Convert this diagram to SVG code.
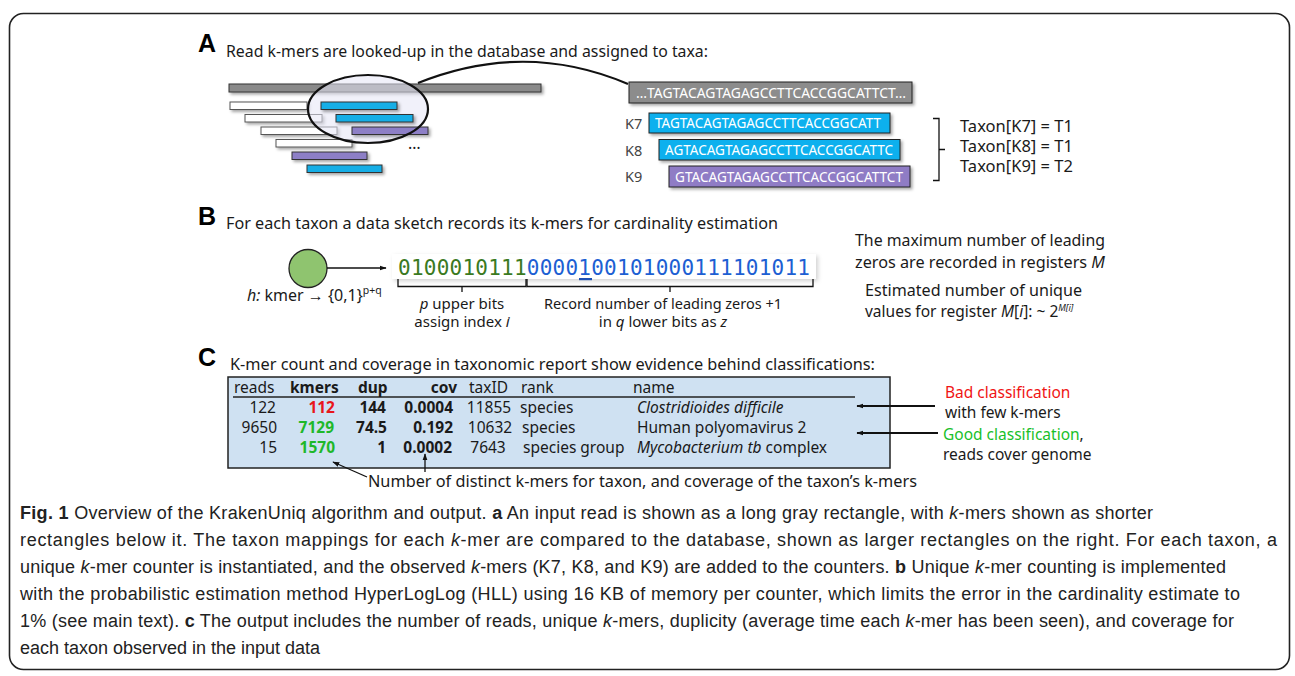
<svg xmlns="http://www.w3.org/2000/svg" width="1295" height="676" viewBox="0 0 1295 676">
  <defs>
    <style>
      .ui { font-family: "Noto Sans", "Open Sans", sans-serif; fill: #1a1a1a; }
      .big { font-family: "Liberation Sans", Arial, sans-serif; font-weight: bold; font-size: 25px; fill: #000; }
      .seq { font-family: "Noto Sans", "Open Sans", sans-serif; font-size: 13.5px; fill: #fff; }
      .klab { font-family: "Noto Sans", "Open Sans", sans-serif; font-size: 14.5px; fill: #444; }
      .bits { font-family: "DejaVu Sans Mono", "Liberation Mono", monospace; font-size: 21px; }
      .cap { font-family: "Liberation Sans", Arial, sans-serif; font-size: 18px; fill: #222; }
      .b { font-weight: bold; }
      .i { font-style: italic; }
      .line { stroke: #111; stroke-width: 1.3; fill: none; }
      .kbox { stroke: #222; stroke-width: 1; }
      .readw { fill: #fff; stroke: #555; stroke-width: 1; }
    </style>
    <filter id="shadow" x="-10%" y="-40%" width="130%" height="200%">
      <feDropShadow dx="2" dy="2" stdDeviation="1.5" flood-color="#000" flood-opacity="0.35"/>
    </filter>
    <filter id="soft" x="-5%" y="-30%" width="110%" height="170%">
      <feDropShadow dx="2" dy="2" stdDeviation="2" flood-color="#000" flood-opacity="0.18"/>
    </filter>
    <marker id="arr" viewBox="0 0 10 10" refX="9" refY="5" markerWidth="7" markerHeight="7" orient="auto-start-reverse" markerUnits="userSpaceOnUse">
      <path d="M0,1.5 L10,5 L0,8.5 z" fill="#111"/>
    </marker>
  </defs>

  <!-- figure frame -->
  <rect x="9.5" y="13.5" width="1280" height="656" rx="14" fill="#fff" stroke="#222" stroke-width="1.6"/>

  <!-- ===== Panel A ===== -->
  <g id="panelA-title">
    <text class="big" x="198" y="52">A</text>
    <text class="ui" x="226" y="57" font-size="17" textLength="482" lengthAdjust="spacingAndGlyphs">Read k-mers are looked-up in the database and assigned to taxa:</text>
  </g>

  <g id="read-kmers" filter="url(#shadow)">
    <rect x="229" y="84" width="312" height="8" fill="#8a8a8a" stroke="#333" stroke-width="1"/>
    <rect class="readw" x="230" y="102" width="77" height="7.5"/>
    <rect class="readw" x="245" y="114.5" width="77" height="7.5"/>
    <rect class="readw" x="261" y="127" width="76" height="7.5"/>
    <rect class="readw" x="276" y="139.5" width="76" height="7.5"/>
    <rect x="292" y="152" width="75" height="7.5" fill="#8d7fc6" stroke="#333" stroke-width="1"/>
    <rect x="307" y="165" width="75" height="7.5" fill="#13aee6" stroke="#333" stroke-width="1"/>
  </g>

  <g id="zoom-ellipse">
    <ellipse cx="368" cy="109" rx="60" ry="34" fill="#e6e6f5" fill-opacity="0.55" stroke="none"/>
    <g filter="url(#shadow)">
      <rect x="321" y="102" width="76" height="7.5" fill="#13aee6" stroke="#333" stroke-width="1"/>
      <rect x="336" y="114.5" width="77" height="7.5" fill="#13aee6" stroke="#333" stroke-width="1"/>
      <rect x="352" y="127" width="76" height="7.5" fill="#8d7fc6" stroke="#333" stroke-width="1"/>
    </g>
    <ellipse cx="368" cy="109" rx="60" ry="34" fill="none" stroke="#111" stroke-width="2.2"/>
    <text class="ui" x="408" y="149" font-size="16">…</text>
  </g>

  <g id="database-sequences">
    <g filter="url(#shadow)">
      <rect class="kbox" x="629" y="82" width="283" height="21" fill="#8c8c8c"/>
      <rect class="kbox" x="649" y="113" width="241" height="20" fill="#0fb0ee"/>
      <rect class="kbox" x="659" y="139.5" width="241" height="20.5" fill="#0fb0ee"/>
      <rect class="kbox" x="669" y="166" width="241" height="21" fill="#8f7cc5"/>
    </g>
    <text class="seq" x="636" y="97.5" textLength="270" lengthAdjust="spacingAndGlyphs">…TAGTACAGTAGAGCCTTCACCGGCATTCT…</text>
    <text class="seq" x="655" y="128" textLength="226" lengthAdjust="spacingAndGlyphs">TAGTACAGTAGAGCCTTCACCGGCATT</text>
    <text class="seq" x="665" y="154.5" textLength="228" lengthAdjust="spacingAndGlyphs">AGTACAGTAGAGCCTTCACCGGCATTC</text>
    <text class="seq" x="675" y="181.5" textLength="228" lengthAdjust="spacingAndGlyphs">GTACAGTAGAGCCTTCACCGGCATTCT</text>
    <text class="klab" x="625" y="128.5">K7</text>
    <text class="klab" x="625" y="155.5">K8</text>
    <text class="klab" x="625" y="182">K9</text>
  </g>

  <g id="taxon-assignments">
    <path class="line" d="M933,118.5 H939 V180.5 H933 M939,149.5 H945"/>
    <text class="ui" x="960" y="132" font-size="16" textLength="113" lengthAdjust="spacingAndGlyphs">Taxon[K7] = T1</text>
    <text class="ui" x="960" y="152" font-size="16" textLength="113" lengthAdjust="spacingAndGlyphs">Taxon[K8] = T1</text>
    <text class="ui" x="960" y="172" font-size="16" textLength="113" lengthAdjust="spacingAndGlyphs">Taxon[K9] = T2</text>
  </g>

  <!-- ===== Panel B ===== -->
  <g id="panelB-title">
    <text class="big" x="198" y="225">B</text>
    <text class="ui" x="226" y="229" font-size="17" textLength="552" lengthAdjust="spacingAndGlyphs">For each taxon a data sketch records its k-mers for cardinality estimation</text>
  </g>

  <g id="hash-node">
    <circle cx="308" cy="268.5" r="19" fill="#8fc46f" stroke="#222" stroke-width="1.3"/>
    <text class="ui" x="247" y="301" font-size="16"><tspan class="i">h:</tspan> kmer → {0,1}<tspan font-size="10.5" dy="-7">p+q</tspan></text>
  </g>

  <g id="bit-string">
    <rect x="392" y="254" width="424" height="25" fill="#fff" filter="url(#soft)"/>
    <text class="bits" x="398" y="275" textLength="412"><tspan fill="#3b7a1f">0100010111</tspan><tspan fill="#1d5fd3">0000100101000111101011</tspan></text>
    <rect x="579" y="278" width="13" height="2.2" fill="#1d4fb3"/>
    <path class="line" d="M398,279 V286.5 H526 V279 M462,286.5 V292"/>
    <path class="line" d="M527,279 V286.5 H813 V279 M670,286.5 V292"/>
    <text class="ui" x="462" y="309" font-size="15" text-anchor="middle"><tspan class="i">p</tspan> upper bits</text>
    <text class="ui" x="462" y="327" font-size="15" text-anchor="middle">assign index <tspan class="i">i</tspan></text>
    <text class="ui" x="663" y="309" font-size="15" text-anchor="middle" textLength="238" lengthAdjust="spacingAndGlyphs">Record number of leading zeros +1</text>
    <text class="ui" x="663" y="327" font-size="15" text-anchor="middle">in <tspan class="i">q</tspan> lower bits as <tspan class="i">z</tspan></text>
  </g>

  <g id="register-notes">
    <text class="ui" x="855" y="246" font-size="15.5" textLength="250" lengthAdjust="spacingAndGlyphs">The maximum number of leading</text>
    <text class="ui" x="855" y="268" font-size="15.5" textLength="250" lengthAdjust="spacingAndGlyphs">zeros are recorded in registers <tspan class="i">M</tspan></text>
    <text class="ui" x="865" y="296" font-size="15.5" textLength="217" lengthAdjust="spacingAndGlyphs">Estimated number of unique</text>
    <text class="ui" x="865" y="317" font-size="15.5">values for register <tspan class="i">M</tspan>[<tspan class="i">i</tspan>]: ~ 2<tspan font-size="9" dy="-6" class="i">M[i]</tspan></text>
  </g>

  <!-- ===== Panel C ===== -->
  <g id="panelC-title">
    <text class="big" x="198" y="366">C</text>
    <text class="ui" x="230" y="370" font-size="16.5" textLength="645" lengthAdjust="spacingAndGlyphs">K-mer count and coverage in taxonomic report  show evidence behind classifications:</text>
  </g>

  <g id="report-table">
    <rect x="228" y="377" width="662" height="91" fill="#cfe1f2" stroke="#222" stroke-width="1.5"/>
    <line x1="233" y1="397" x2="855" y2="397" stroke="#222" stroke-width="1.3"/>
    <g class="ui" font-size="15.5">
      <text x="234" y="393">reads</text>
      <text x="290" y="393" class="b">kmers</text>
      <text x="358" y="393" class="b">dup</text>
      <text x="457" y="393" class="b" text-anchor="end">cov</text>
      <text x="469" y="393">taxID</text>
      <text x="521" y="393">rank</text>
      <text x="633" y="393">name</text>

      <text x="276" y="413" text-anchor="end">122</text>
      <text x="335" y="413" text-anchor="end" class="b" fill="#e8161b">112</text>
      <text x="386" y="413" text-anchor="end" class="b">144</text>
      <text x="453" y="413" text-anchor="end" class="b">0.0004</text>
      <text x="489" y="413" text-anchor="middle">11855</text>
      <text x="520" y="413">species</text>
      <text x="637" y="413" class="i">Clostridioides difficile</text>

      <text x="277" y="433" text-anchor="end">9650</text>
      <text x="334" y="433" text-anchor="end" class="b" fill="#1eb82a">7129</text>
      <text x="387" y="433" text-anchor="end" class="b">74.5</text>
      <text x="453" y="433" text-anchor="end" class="b">0.192</text>
      <text x="490" y="433" text-anchor="middle">10632</text>
      <text x="522" y="433">species</text>
      <text x="637" y="433">Human polyomavirus 2</text>

      <text x="277" y="453" text-anchor="end">15</text>
      <text x="335" y="453" text-anchor="end" class="b" fill="#1eb82a">1570</text>
      <text x="386" y="453" text-anchor="end" class="b">1</text>
      <text x="452" y="453" text-anchor="end" class="b">0.0002</text>
      <text x="488" y="453" text-anchor="middle">7643</text>
      <text x="523" y="453">species group</text>
      <text x="637" y="453"><tspan class="i">Mycobacterium tb</tspan> complex</text>
    </g>
  </g>

  <g id="classification-notes">
    <text class="ui" x="945" y="398" font-size="15.5" style="fill:#f01414">Bad classification</text>
    <text class="ui" x="945" y="418" font-size="15.5">with few k-mers</text>
    <text class="ui" x="943" y="440" font-size="15.5"><tspan style="fill:#19c02a">Good classification</tspan>,</text>
    <text class="ui" x="943" y="460" font-size="15.5">reads cover genome</text>
  </g>

  <g id="table-footnote">
    <text class="ui" x="368" y="487" font-size="16" textLength="549" lengthAdjust="spacingAndGlyphs">Number of distinct k-mers for taxon, and coverage of the taxon’s k-mers</text>
  </g>

  <!-- connectors -->
  <g id="connectors" fill="none" stroke="#111">
    <path d="M418,83 Q525,40 628,84" stroke-width="2.2"/>
    <line x1="327" y1="268" x2="386" y2="268" stroke-width="1.3" marker-end="url(#arr)"/>
    <line x1="935" y1="406" x2="857" y2="406" stroke-width="2" marker-end="url(#arr)"/>
    <line x1="938" y1="433" x2="857" y2="433" stroke-width="2" marker-end="url(#arr)"/>
    <line x1="367" y1="477" x2="333" y2="462" stroke-width="1.3" marker-end="url(#arr)"/>
    <line x1="425" y1="472" x2="425" y2="454" stroke-width="1.3" marker-end="url(#arr)"/>
  </g>

  <!-- ===== Caption ===== -->
  <g id="caption" class="cap">
    <text x="20" y="519" textLength="1133"><tspan class="b">Fig. 1</tspan> Overview of the KrakenUniq algorithm and output. <tspan class="b">a</tspan> An input read is shown as a long gray rectangle, with <tspan class="i">k</tspan>-mers shown as shorter</text>
    <text x="20" y="546" textLength="1257">rectangles below it. The taxon mappings for each <tspan class="i">k</tspan>-mer are compared to the database, shown as larger rectangles on the right. For each taxon, a</text>
    <text x="20" y="573" textLength="1206">unique <tspan class="i">k</tspan>-mer counter is instantiated, and the observed <tspan class="i">k</tspan>-mers (K7, K8, and K9) are added to the counters. <tspan class="b">b</tspan> Unique <tspan class="i">k</tspan>-mer counting is implemented</text>
    <text x="20" y="600" textLength="1220">with the probabilistic estimation method HyperLogLog (HLL) using 16 KB of memory per counter, which limits the error in the cardinality estimate to</text>
    <text x="20" y="627" textLength="1214">1% (see main text). <tspan class="b">c</tspan> The output includes the number of reads, unique <tspan class="i">k</tspan>-mers, duplicity (average time each <tspan class="i">k</tspan>-mer has been seen), and coverage for</text>
    <text x="20" y="654" textLength="300">each taxon observed in the input data</text>
  </g>
</svg>
